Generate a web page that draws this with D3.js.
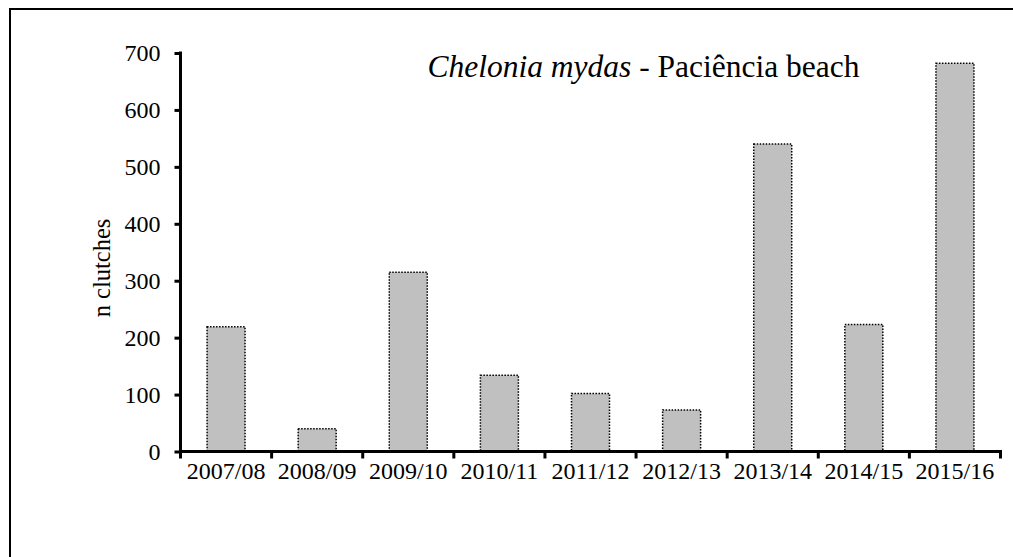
<!DOCTYPE html>
<html>
<head>
<meta charset="utf-8">
<script src="https://cdn.jsdelivr.net/npm/d3@7"></script>
<style>
  body { margin: 0; background: #fff; }
  svg { display: block; }
  svg text { font-family: "Liberation Serif", "Times New Roman", serif; fill: #000; }
</style>
</head>
<body>
<div id="chart"></div>
<script>
const seasons = ["2007/08", "2008/09", "2009/10", "2010/11", "2011/12", "2012/13", "2013/14", "2014/15", "2015/16"];
const clutches = [219, 40, 315, 134, 102, 73, 540, 223, 682];
const yTicks = [0, 100, 200, 300, 400, 500, 600, 700];

const width = 1013;
const height = 557;
const plotLeft = 180.5, plotRight = 1000.5, plotTop = 53, plotBottom = 451.5;

var svg = d3
  .select("#chart")
  .append("svg")
  .attr("width", width)
  .attr("height", height);

// frame (only top and left edges visible in the picture)
svg.append("path")
  .attr("d", `M10,${height + 5} L10,9 L${width + 5},9`)
  .attr("fill", "none")
  .attr("stroke", "#000")
  .attr("stroke-width", 2);

var x = d3.scaleBand()
  .domain(seasons)
  .range([plotLeft, plotRight])
  .paddingInner(0.583)
  .paddingOuter(0.583 / 2);

var y = d3.scaleLinear()
  .domain([0, 700])
  .range([plotBottom, plotTop]);

// bars
svg.selectAll("rect.bar")
  .data(clutches)
  .enter()
  .append("rect")
  .attr("class", "bar")
  .attr("x", (_, i) => x(seasons[i]))
  .attr("y", (d) => y(d))
  .attr("width", x.bandwidth())
  .attr("height", (d) => y(0) - y(d))
  .attr("fill", "#c0c0c0")
  .attr("stroke", "#000")
  .attr("stroke-width", 1.5)
  .attr("stroke-dasharray", "1.5,1.5");

// y axis
const yAxis = svg.append("g")
  .attr("transform", `translate(${plotLeft},0)`)
  .call(d3.axisLeft(y).tickValues(yTicks).tickSize(6).tickSizeOuter(0).tickPadding(14));
yAxis.attr("font-family", null);
yAxis.select(".domain").attr("stroke-width", 3).attr("d", `M0,${plotTop - 1.5}V${plotBottom}`);
yAxis.selectAll(".tick line").attr("stroke-width", 3);
yAxis.selectAll("text").attr("font-size", 24);

// x axis
const xAxis = svg.append("g")
  .attr("transform", `translate(0,${plotBottom})`)
  .call(d3.axisBottom(x).tickSize(0).tickSizeOuter(0).tickPadding(10));
xAxis.attr("font-family", null);
xAxis.select(".domain").attr("stroke-width", 3).attr("d", `M${plotLeft - 1.5},0H${plotRight + 1.5}`);
xAxis.selectAll("text").attr("font-size", 24);

// x ticks sit between the seasons
const edges = seasons.map((s) => x(s) - x.step() * x.paddingInner() / 2).concat([plotRight]);
xAxis.selectAll("line.edge")
  .data(edges)
  .enter()
  .append("line")
  .attr("class", "edge")
  .attr("x1", (d) => d)
  .attr("x2", (d) => d)
  .attr("y1", 0)
  .attr("y2", 7)
  .attr("stroke", "#000")
  .attr("stroke-width", 3);

// y label
svg.append("text")
  .attr("transform", "translate(110,268) rotate(-90)")
  .attr("text-anchor", "middle")
  .attr("font-size", 24.5)
  .text("n clutches");

// title
const title = svg.append("text")
  .attr("x", 643.5)
  .attr("y", 77)
  .attr("text-anchor", "middle")
  .attr("font-size", 31.5);
title.append("tspan").attr("font-style", "italic").text("Chelonia mydas");
title.append("tspan").text(" - Paciência beach");
</script>
</body>
</html>
